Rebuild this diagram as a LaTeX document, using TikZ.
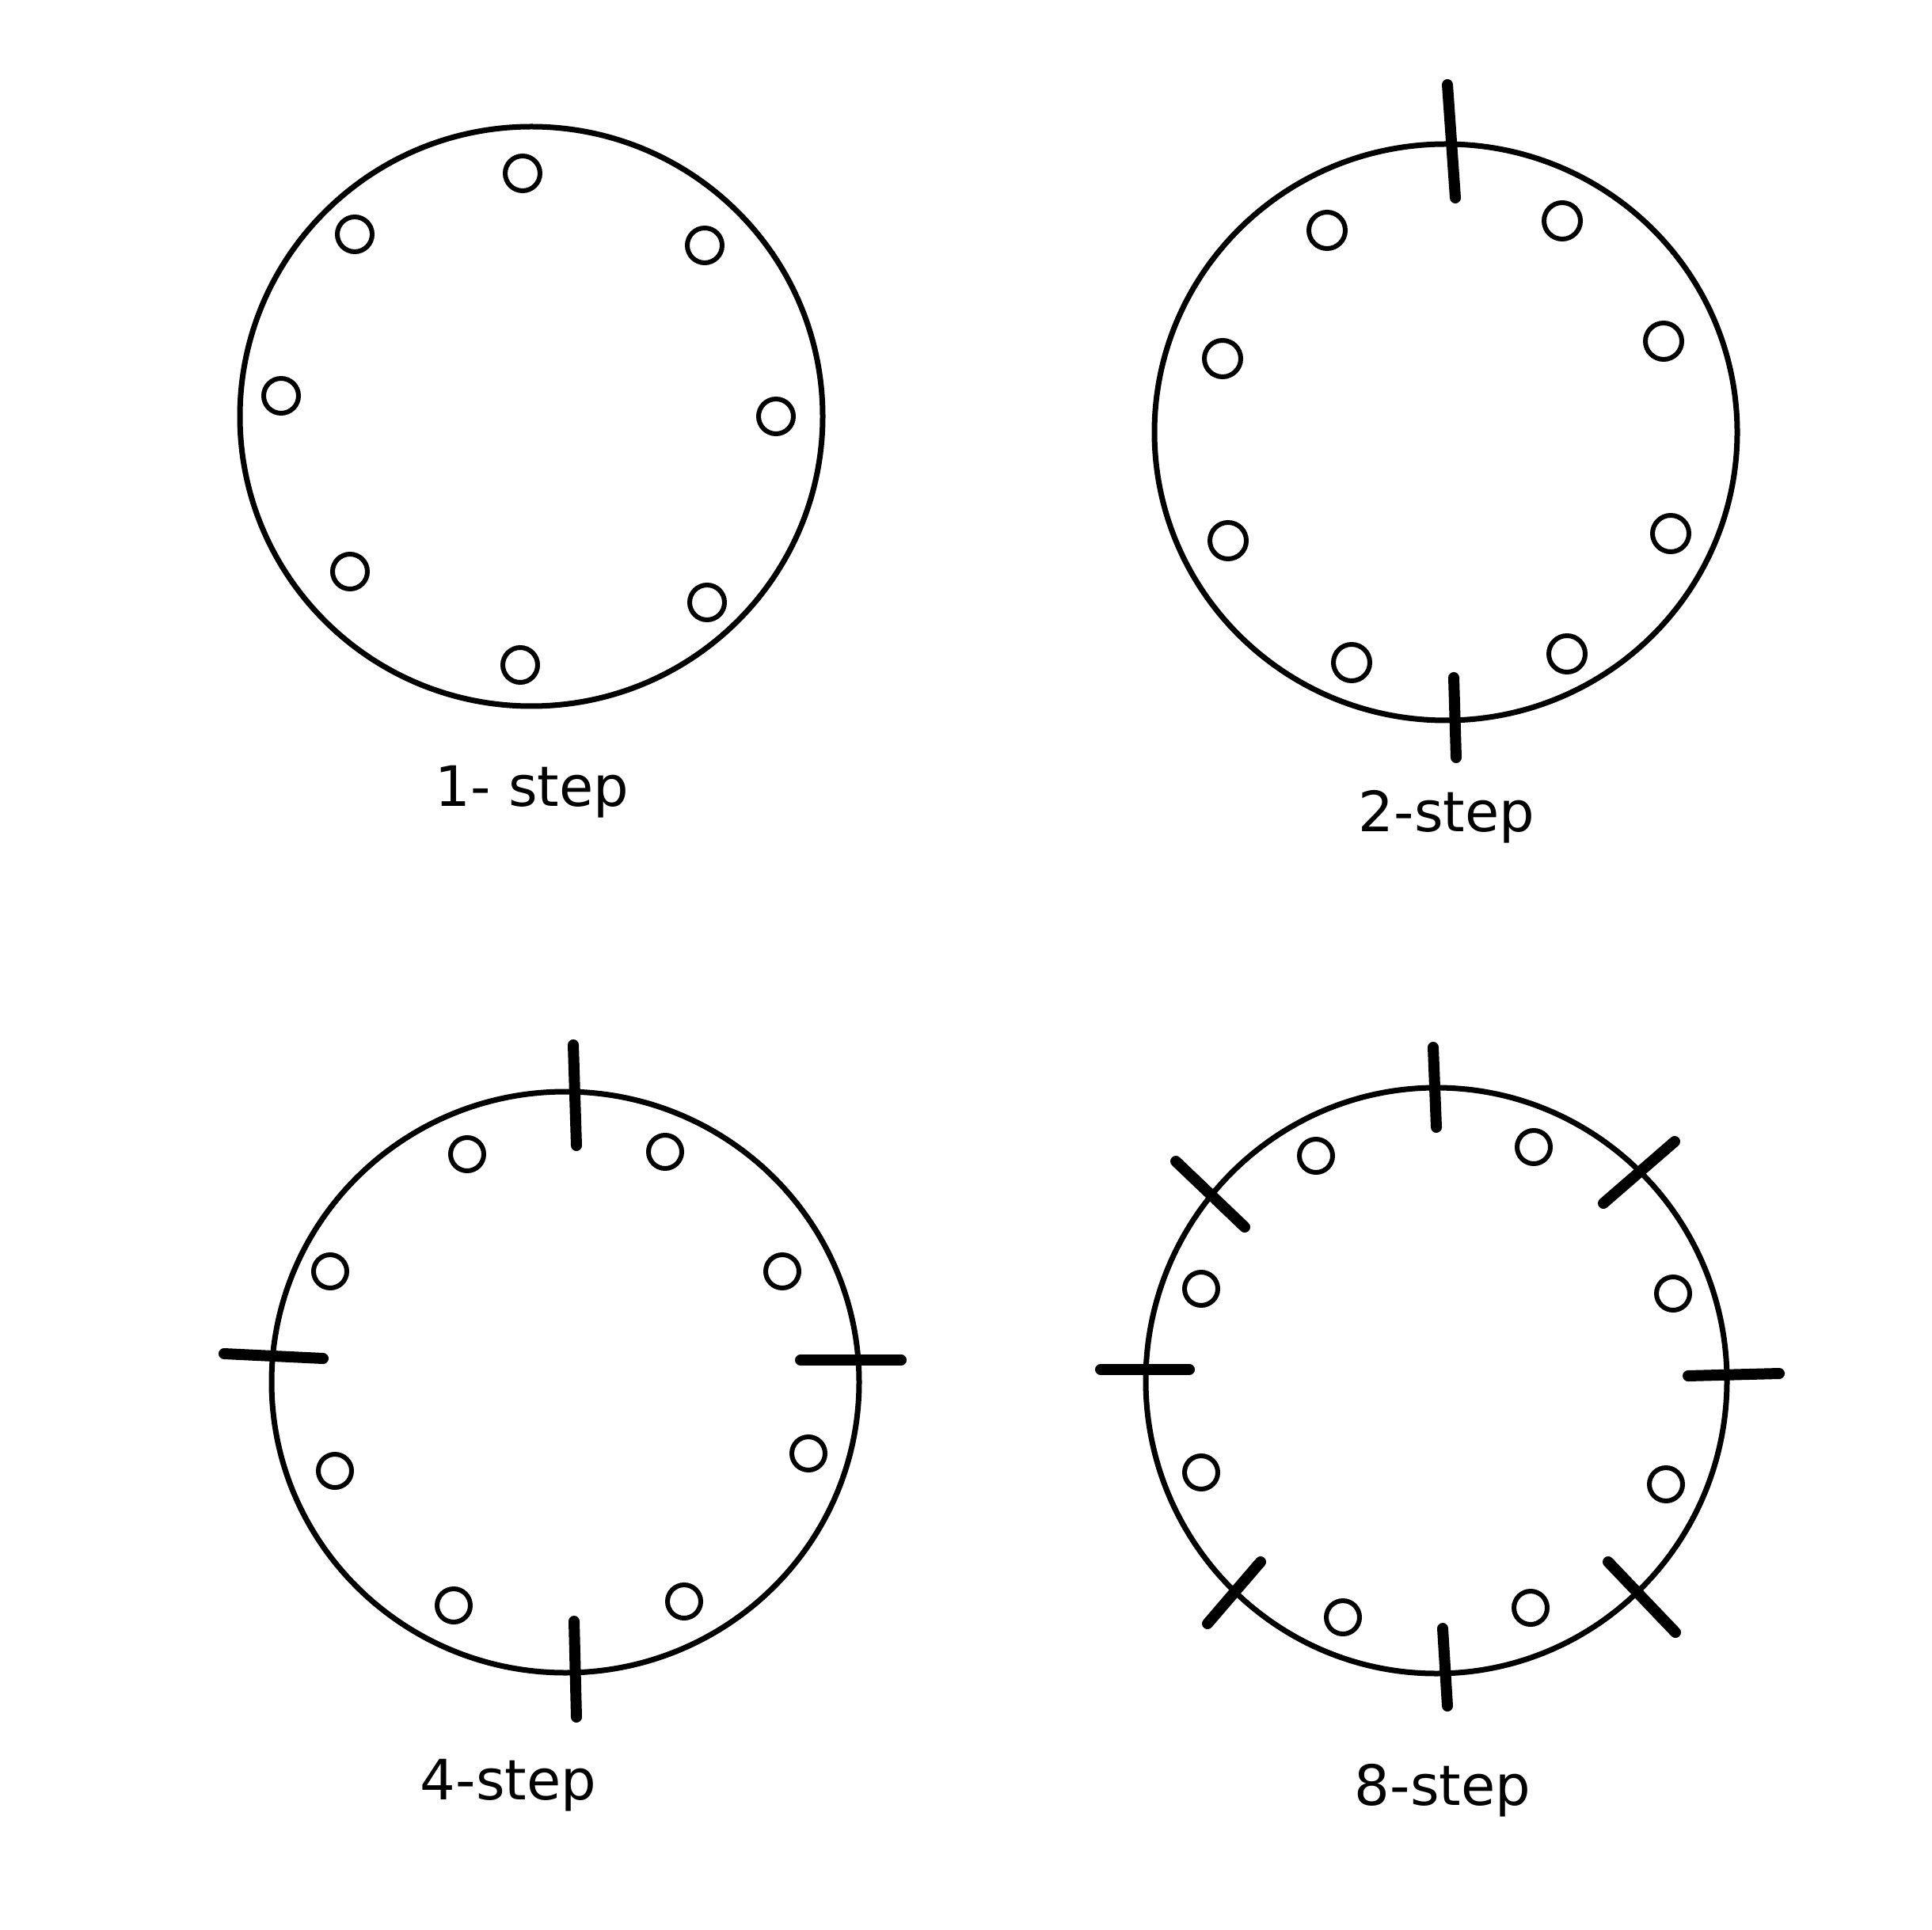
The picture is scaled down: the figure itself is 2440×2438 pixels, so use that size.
\documentclass[tikz,border=0pt]{standalone}
\usepackage{fontspec}
\setmainfont{DejaVu Sans}
\begin{document}
\begin{tikzpicture}[x=0.1mm,y=-0.1mm,
  big/.style={line width=0.7mm},
  hole/.style={line width=0.6mm},
  tickmark/.style={line width=1.4mm,line cap=round},
  lbl/.style={anchor=base,inner sep=0pt,font=\fontsize{20}{24}\selectfont}]
\fill[white] (0,0) rectangle (2440,2438);
\useasboundingbox (0,0) rectangle (2440,2438);
% ---- 1-step
\draw[big] (671,526) ellipse [x radius=368, y radius=366];
\foreach \p in {(660,219),(448,296),(890,310),(355,500),(980,526),(442,722),(893,761),(657,840)}
  \draw[hole] \p circle [radius=22];
\node[lbl] (l1) at (672,1018) {1- step};
% ---- 2-step
\draw[big] (1826,546) ellipse [x radius=368, y radius=364];
\foreach \p in {(1676,291),(1973,279),(1544,453),(2101,431),(1551,683),(2110,674),(1707,837),(1979,826)}
  \draw[hole] \p circle [radius=23];
\draw[tickmark] (1828,107) -- (1838,250);
\draw[tickmark] (1836,856) -- (1839,957);
\node[lbl] (l2) at (1827,1050) {2-step};
% ---- 4-step
\draw[big] (714,1746) ellipse [x radius=371, y radius=367];
\foreach \p in {(590,1458),(840,1455),(417,1606),(988,1606),(423,1858),(1021,1836),(573,2028),(864,2023)}
  \draw[hole] \p circle [radius=21];
\draw[tickmark] (724,1320) -- (728,1447);
\draw[tickmark] (725,2048) -- (728,2169);
\draw[tickmark] (283,1710) -- (408,1716);
\draw[tickmark] (1011,1718) -- (1138,1718);
\node[lbl] (l4) at (642,2273) {4-step};
% ---- 8-step
\draw[big] (1814,1744) ellipse [x radius=367, y radius=370];
\foreach \p in {(1662,1460),(1937,1449),(1517,1628),(2113,1634),(1517,1860),(2104,1875),(1696,2043),(1933,2031)}
  \draw[hole] \p circle [radius=21];
\draw[tickmark] (1810,1323) -- (1814,1424);
\draw[tickmark] (1822,2057) -- (1828,2155);
\draw[tickmark] (1390,1730) -- (1502,1730);
\draw[tickmark] (2132,1738) -- (2247,1735);
\draw[tickmark] (1485,1467) -- (1572,1550);
\draw[tickmark] (2025,1520) -- (2115,1442);
\draw[tickmark] (1525,2051) -- (1592,1973);
\draw[tickmark] (2031,1973) -- (2116,2062);
\node[lbl] (l8) at (1822,2280) {8-step};
\end{tikzpicture}
\end{document}
